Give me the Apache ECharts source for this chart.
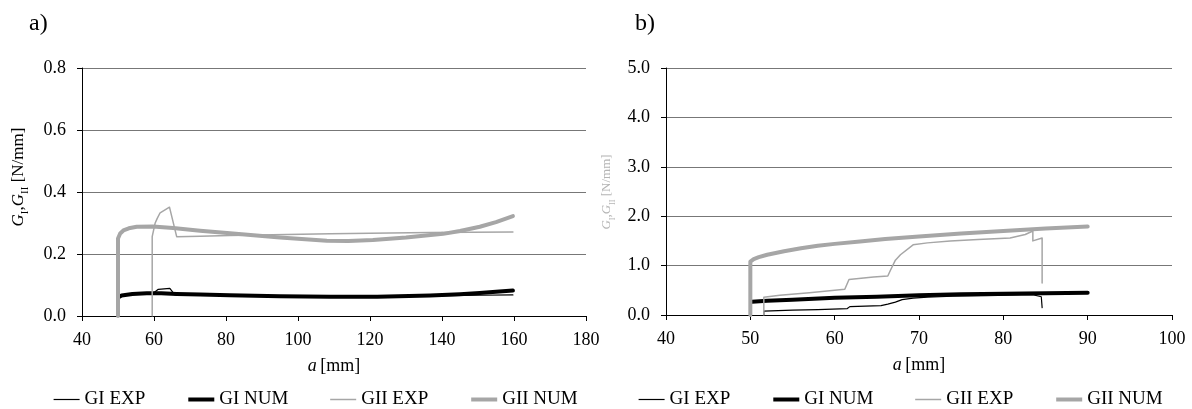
<!DOCTYPE html>
<html>
<head>
<meta charset="utf-8">
<script src="https://cdn.jsdelivr.net/npm/echarts@6/dist/echarts.min.js"></script>
<style>
html,body{margin:0;padding:0;background:#fff;}
#c{width:1192px;height:409px;}
</style>
</head>
<body>
<div id="c"></div>
<script>
// ---- Panel a) data: [a (mm), G (N/mm)] ----
var aGIexp = [[59.5,0.070],[60.3,0.078],[61.2,0.086],[64.4,0.089],[65.8,0.068],[72.8,0.068],[81,0.067],[95,0.064],[109,0.062],[122,0.062],[136.7,0.065],[150,0.067],[159.7,0.068]];
var aGInum = [[50.4,0.062],[51,0.066],[54,0.071],[58,0.073],[62,0.073],[66.3,0.071],[72.8,0.069],[81,0.067],[95,0.064],[109,0.062],[122,0.062],[136.7,0.066],[145,0.070],[150.5,0.074],[155,0.078],[159.7,0.082]];
var aGIIexp = [[59.5,0],[59.5,0.256],[60.3,0.299],[60.9,0.315],[61.7,0.333],[64.3,0.351],[66.3,0.256],[72.8,0.257],[81,0.260],[109,0.265],[136.7,0.269],[159.7,0.271]];
var aGIInum = [[50,0],[50,0.250],[50.6,0.266],[51.5,0.276],[53,0.283],[55.2,0.288],[59.7,0.289],[65.3,0.284],[72.8,0.275],[81.1,0.267],[95,0.253],[108,0.243],[114,0.242],[120.8,0.245],[130,0.253],[140.3,0.265],[145,0.274],[150.5,0.288],[155,0.303],[159.7,0.322]];

// ---- Panel b) data ----
var bGIexp = [[51.6,0],[51.6,0.08],[55,0.10],[58,0.11],[61.5,0.13],[61.8,0.17],[65.5,0.19],[66.3,0.22],[67.2,0.26],[68,0.31],[69.3,0.34],[71,0.36],[74,0.38],[78,0.39],[83.5,0.41],[83.6,0.37],[84.5,0.37],[84.6,0.41],[84.6,0.15]];
var bGInum = [[50.2,0.27],[52,0.29],[55,0.31],[60,0.35],[65,0.37],[70,0.40],[75,0.42],[80,0.43],[85,0.44],[90,0.45]];
var bGIIexp = [[51.6,0],[51.6,0.36],[53.5,0.40],[57,0.45],[61.2,0.52],[61.7,0.72],[64.6,0.77],[66.3,0.79],[66.6,0.90],[67.2,1.11],[67.8,1.22],[69.3,1.42],[71,1.46],[73.7,1.50],[77,1.53],[80.8,1.56],[82.6,1.63],[83.5,1.70],[83.5,1.50],[84.6,1.56],[84.6,0.65]];
var bGIInum = [[50,0],[50,1.08],[50.4,1.13],[51,1.17],[52,1.22],[54,1.29],[56,1.35],[58,1.40],[60,1.44],[63,1.49],[66,1.54],[70,1.59],[75,1.65],[80,1.70],[85,1.75],[90,1.79]];

var seriesNames = ['GI EXP','GI NUM','GII EXP','GII NUM'];
var xTicksA = {min:40, max:180, interval:20};
var yTicksA = {min:0, max:0.8, interval:0.2};
var xTicksB = {min:40, max:100, interval:10};
var yTicksB = {min:0, max:5, interval:1};

var FONT = 'Liberation Serif';
var styles = [
  {color:'#000000', width:1.2},
  {color:'#000000', width:4},
  {color:'#a6a6a6', width:1.5},
  {color:'#a6a6a6', width:4}
];

function mkSeries(name, data, idx, gi){
  return {
    name: name, type:'line', data:data, xAxisIndex:gi, yAxisIndex:gi,
    showSymbol:false, symbol:'none', animation:false,
    lineStyle:{color:styles[idx].color, width:styles[idx].width, cap:'round', join:'round'},
    itemStyle:{color:styles[idx].color}
  };
}

function xAxis(gi, t){
  return {
    type:'value', gridIndex:gi, min:t.min, max:t.max, interval:t.interval,
    axisLine:{show:true, onZero:false, lineStyle:{color:'#000', width:1}},
    axisTick:{show:true, length:5, lineStyle:{color:'#000'}},
    axisLabel:{color:'#000', fontFamily:FONT, fontSize:18, margin:15},
    splitLine:{show:false},
    name:'{i|a} {n|[mm]}', nameLocation:'middle', nameGap:41,
    nameTextStyle:{rich:{
      i:{fontFamily:FONT, fontSize:18, fontStyle:'italic', color:'#000'},
      n:{fontFamily:FONT, fontSize:18, color:'#000'}
    }}
  };
}
function yAxis(gi, t){
  return {
    type:'value', gridIndex:gi, min:t.min, max:t.max, interval:t.interval,
    axisLine:{show:true, lineStyle:{color:'#000', width:1}},
    axisTick:{show:true, length:5, lineStyle:{color:'#000'}},
    axisLabel:{color:'#000', fontFamily:FONT, fontSize:18, margin:16,
      formatter:function(v){return v.toFixed(1);}},
    splitLine:{show:true, lineStyle:{color:'#777777', width:1}}
  };
}
var yName = '{g|G}{s|I}{n|,}{g|G}{s|II}{n| [N/mm]}';
function yNameText(x, y, color, size){
  var sub = Math.round(size*0.65);
  return {
    type:'text', x:x, y:y, rotation:Math.PI/2, silent:true,
    style:{
      text:yName, align:'center', verticalAlign:'middle',
      rich:{
        g:{fontFamily:FONT, fontSize:size, fontStyle:'italic', fill:color, lineHeight:size+7, verticalAlign:'middle'},
        s:{fontFamily:FONT, fontSize:sub, fill:color, lineHeight:size+7, verticalAlign:'bottom'},
        n:{fontFamily:FONT, fontSize:size, fill:color, lineHeight:size+7, verticalAlign:'middle'}
      }
    }
  };
}

function legend(left){
  return {
    left:left, top:390, padding:0, itemWidth:26, itemHeight:2, itemGap:41,
    selectedMode:false,
    itemStyle:{opacity:0},
    data:seriesNames.map(function(n, i){
      return {name:n, lineStyle:{width:styles[i].width, color:styles[i].color, cap:'butt'}};
    }),
    textStyle:{fontFamily:FONT, fontSize:19, color:'#000'}
  };
}

var option = {
  animation:false,
  backgroundColor:'#fff',
  title:[
    {text:'a)', left:24, top:7, textStyle:{fontFamily:FONT, fontSize:24, fontWeight:'normal', color:'#000'}},
    {text:'b)', left:630, top:7, textStyle:{fontFamily:FONT, fontSize:24, fontWeight:'normal', color:'#000'}}
  ],
  grid:[
    {left:82, top:68, width:504, height:248},
    {left:666, top:68, width:506, height:247}
  ],
  legend:[legend(53), legend(638)],
  xAxis:[xAxis(0,xTicksA), xAxis(1,xTicksB)],
  yAxis:[yAxis(0,yTicksA), yAxis(1,yTicksB)],
  graphic:[
    yNameText(19, 177, '#000', 17),
    yNameText(607, 192, '#b5b5b5', 13)
  ],
  series:[
    mkSeries(seriesNames[0], aGIexp, 0, 0),
    mkSeries(seriesNames[1], aGInum, 1, 0),
    mkSeries(seriesNames[2], aGIIexp, 2, 0),
    mkSeries(seriesNames[3], aGIInum, 3, 0),
    mkSeries(seriesNames[0], bGIexp, 0, 1),
    mkSeries(seriesNames[1], bGInum, 1, 1),
    mkSeries(seriesNames[2], bGIIexp, 2, 1),
    mkSeries(seriesNames[3], bGIInum, 3, 1)
  ]
};
var chart = echarts.init(document.getElementById('c'), null, {renderer:'canvas'});
chart.setOption(option);
</script>
</body>
</html>
